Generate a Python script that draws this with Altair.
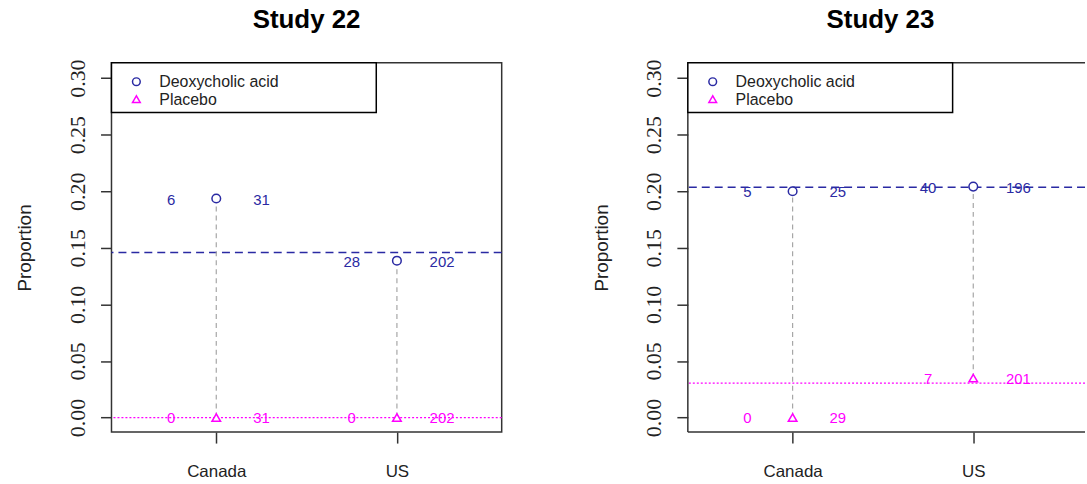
import altair as alt
import pandas as pd

# ---- data -----------------------------------------------------------------
studies = ["Study 22", "Study 23"]
countries = ["Canada", "US"]
arms = ["Deoxycholic acid", "Placebo"]
arm_colors = ["#2a2aa3", "#ff00ff"]
arm_shapes = ["circle", "triangle-up"]

# events and patients per country (Canada, US), one row per study
deoxy_events = [[6, 28], [5, 40]]
deoxy_totals = [[31, 202], [25, 196]]
placebo_events = [[0, 0], [0, 7]]
placebo_totals = [[31, 202], [29, 201]]

y_ticks = [0.0, 0.05, 0.10, 0.15, 0.20, 0.25, 0.30]

# ---- tables -----------------------------------------------------------------
arm_tables = [(deoxy_events, deoxy_totals), (placebo_events, placebo_totals)]
rows = []
for s, study in enumerate(studies):
    for a, (ev, tot) in enumerate(arm_tables):
        for c, country in enumerate(countries):
            rows.append(dict(study=study, arm=arms[a], country=country, pos=c + 1,
                             events=ev[s][c], total=tot[s][c],
                             prop=ev[s][c] / tot[s][c]))
points = pd.DataFrame(rows)

overall = (points.groupby(["study", "arm"], as_index=False)[["events", "total"]].sum())
overall["prop"] = overall["events"] / overall["total"]

stems = points.pivot_table(index=["study", "pos"], columns="arm", values="prop").reset_index()
stems = stems.rename(columns={arms[0]: "top", arms[1]: "bottom"})

FONT = "Liberation Sans"
FRAME = "#333"
PX_PER_UNIT = 392 / 2.16
X_MIN = 0.42
Y_DOMAIN = [-0.0129, 0.3135]
label_expr = "[" + ",".join(f"'{c}'" for c in countries) + "][datum.value - 1]"

color_scale = alt.Scale(domain=arms, range=arm_colors)
shape_scale = alt.Scale(domain=arms, range=arm_shapes)


def panel(study, width, title_dx, open_right=False):
    xmax = X_MIN + width / PX_PER_UNIT
    xs = alt.Scale(domain=[X_MIN, xmax], nice=False, zero=False)
    ys = alt.Scale(domain=Y_DOMAIN, nice=False, zero=False)

    x_axis = alt.Axis(values=[1, 2], labelExpr=label_expr, title=None, grid=False,
                      domain=False, tickSize=11, tickColor=FRAME, tickWidth=1.5,
                      labelFont=FONT, labelFontSize=17, labelColor="#222",
                      labelAngle=0, labelBaseline="alphabetic", labelPadding=34)
    y_axis = alt.Axis(values=y_ticks, format=".2f", title="Proportion", grid=False,
                      domain=False, tickSize=11, tickColor=FRAME, tickWidth=1.5,
                      labelFont="Liberation Sans Narrow", labelFontSize=22,
                      labelColor="#222", labelAngle=270, labelAlign="center",
                      labelBaseline="alphabetic", labelPadding=16,
                      titleFont=FONT, titleFontSize=19, titleFontWeight="normal",
                      titleColor="#222", titlePadding=32)

    pts = alt.Chart(points[points.study == study])
    ov = alt.Chart(overall[overall.study == study])
    st = alt.Chart(stems[stems.study == study])

    avg_treat = ov.transform_filter(alt.datum.arm == arms[0]).mark_rule(
        color=arm_colors[0], strokeDash=[8, 5], strokeWidth=1.5
    ).encode(y=alt.Y("prop:Q", scale=ys, axis=y_axis))
    avg_plac = ov.transform_filter(alt.datum.arm == arms[1]).mark_rule(
        color=arm_colors[1], strokeDash=[2, 2], strokeWidth=1.3
    ).encode(y=alt.Y("prop:Q", scale=ys))

    stem = st.mark_rule(color="#a6a6a6", strokeDash=[5, 4], strokeWidth=1.2).encode(
        x=alt.X("pos:Q", scale=xs, axis=x_axis),
        y=alt.Y("bottom:Q", scale=ys),
        y2="top:Q",
    )

    dots = pts.mark_point(filled=False, fill="white", fillOpacity=1, size=75,
                          strokeWidth=1.5, opacity=1).encode(
        x=alt.X("pos:Q", scale=xs),
        y=alt.Y("prop:Q", scale=ys),
        color=alt.Color("arm:N", scale=color_scale, legend=None),
        shape=alt.Shape("arm:N", scale=shape_scale, legend=None),
    )

    left_lab = pts.transform_calculate(lx="datum.pos - 0.25").mark_text(
        font=FONT, fontSize=15, baseline="middle", align="center", dy=1
    ).encode(
        x=alt.X("lx:Q", scale=xs),
        y=alt.Y("prop:Q", scale=ys),
        text="events:Q",
        color=alt.Color("arm:N", scale=color_scale, legend=None),
    )
    right_lab = pts.transform_calculate(rx="datum.pos + 0.25").mark_text(
        font=FONT, fontSize=15, baseline="middle", align="center", dy=1
    ).encode(
        x=alt.X("rx:Q", scale=xs),
        y=alt.Y("prop:Q", scale=ys),
        text="total:Q",
        color=alt.Color("arm:N", scale=color_scale, legend=None),
    )

    layers = [avg_treat, avg_plac, stem, dots, left_lab, right_lab]

    # plot frame drawn as rules when the panel runs past the right edge
    if open_right:
        edge = alt.Chart(pd.DataFrame({"k": [0]}))
        for yv in Y_DOMAIN:
            layers.append(edge.mark_rule(color=FRAME, strokeWidth=1.5).encode(
                y=alt.Y(datum=yv, scale=ys)))
        layers.append(edge.mark_rule(color=FRAME, strokeWidth=1.5).encode(
            x=alt.X(datum=X_MIN, scale=xs)))

    # legend box in the top-left corner
    key_src = alt.Chart(pd.DataFrame({"arm": arms}))
    layers.append(
        key_src.transform_filter(alt.datum.arm == arms[0]).mark_rect(
            fill="white", stroke="black", strokeWidth=1.5
        ).encode(x=alt.value(0), x2=alt.value(266), y=alt.value(0), y2=alt.value(50))
    )
    for i, arm in enumerate(arms):
        row = key_src.transform_filter(alt.datum.arm == arm)
        layers.append(row.mark_point(filled=False, size=60, strokeWidth=1.5,
                                     opacity=1, color=arm_colors[i],
                                     shape=arm_shapes[i]).encode(
            x=alt.value(25), y=alt.value(19 + 17.5 * i)))
        layers.append(row.mark_text(font=FONT, fontSize=16, align="left",
                                    baseline="middle", color="#222").encode(
            x=alt.value(48), y=alt.value(19.5 + 17.5 * i), text="arm:N"))

    props = dict(
        width=width, height=371,
        title=alt.TitleParams(study, font=FONT, fontSize=26, fontWeight="bold",
                              color="black", anchor="middle", frame="group",
                              baseline="alphabetic", offset=5, dx=title_dx),
    )
    if open_right:
        props["view"] = alt.ViewBackground(stroke="transparent")
    return alt.layer(*layers).properties(**props)


chart = alt.hconcat(panel(studies[0], 392, 0),
                    panel(studies[1], 399, -6, open_right=True),
                    spacing=88).properties(
    padding={"left": 15, "top": 5, "right": 0, "bottom": 0},
    background="white",
).configure_view(stroke=FRAME, strokeWidth=1.5)

chart.save("out.html", embed_options={"renderer": "svg", "actions": False})
